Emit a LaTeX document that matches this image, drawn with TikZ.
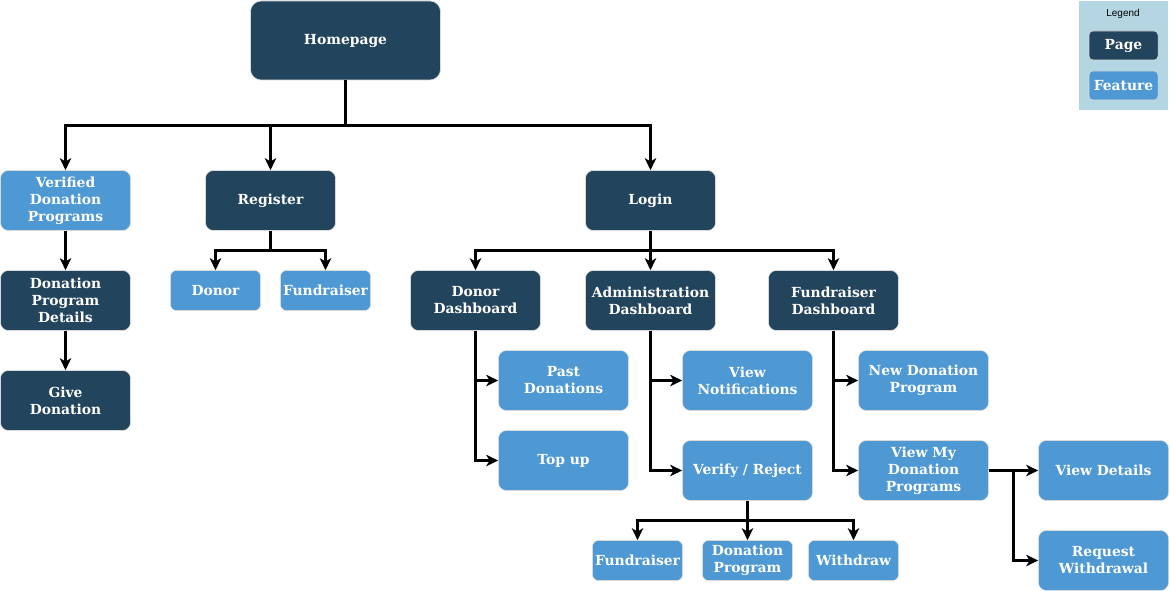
\documentclass[tikz,border=0pt]{standalone}
\usepackage{fontspec}
\setmainfont{DejaVu Serif}
\newfontfamily\legendfont{Liberation Sans}
\usetikzlibrary{arrows.meta}
\definecolor{pagec}{HTML}{23445D}
\definecolor{featc}{HTML}{4E99D3}
\definecolor{legc}{HTML}{B4D6E3}
\tikzset{
  box/.style={rounded corners=6pt, draw=white!70!gray, line width=0.4pt, text=white, align=center, inner sep=0pt,
    font=\fontsize{10.4pt}{12.75pt}\selectfont\bfseries, minimum width=97.5pt, minimum height=45pt},
  pagebox/.style={box, fill=pagec},
  featbox/.style={box, fill=featc},
  smallbox/.style={minimum width=67.5pt, minimum height=30pt, rounded corners=4.5pt},
  conn/.style={line width=1.6pt, -{Stealth[length=9pt,width=8.5pt,inset=2.5pt]}},
  plain/.style={line width=1.6pt}
}
\begin{document}
\begin{tikzpicture}[x=0.75pt,y=-0.75pt]
\useasboundingbox (0,0) rectangle (1170,591);
% legend
\fill[legc] (1079,1) rectangle (1168,110);
\node[font=\legendfont\fontsize{7.5pt}{9pt}\selectfont] (legtitle) at (1123,14) {Legend};
\node[pagebox, minimum width=51.75pt, minimum height=21.75pt, rounded corners=3pt] (legpage) at (1123.5,45.5) {Page};
\node[featbox, minimum width=51.75pt, minimum height=21.75pt, rounded corners=3pt] (legfeat) at (1123.5,85.5) {Feature};
% nodes
\node[pagebox, minimum width=142.5pt, minimum height=59.25pt, rounded corners=8pt] (home) at (345.5,40.5) {Homepage};
\node[featbox] (verified) at (65.5,200.5) {Verified\\Donation\\Programs};
\node[pagebox] (register) at (270.5,200.5) {Register};
\node[pagebox] (login) at (650.5,200.5) {Login};
\node[pagebox] (details) at (65.5,300.5) {Donation\\Program\\Details};
\node[pagebox] (give) at (65.5,400.5) {Give\\Donation};
\node[featbox, smallbox] (rdonor) at (215.5,290.5) {Donor};
\node[featbox, smallbox] (rfund) at (325.5,290.5) {Fundraiser};
\node[pagebox] (ddash) at (475.5,300.5) {Donor\\Dashboard};
\node[pagebox] (adash) at (650.5,300.5) {Administration\\Dashboard};
\node[pagebox] (fdash) at (833.5,300.5) {Fundraiser\\Dashboard};
\node[featbox] (past) at (563.5,380.5) {Past\\Donations};
\node[featbox] (topup) at (563.5,460.5) {Top up};
\node[featbox] (notif) at (747.5,380.5) {View\\Notifications};
\node[featbox] (verify) at (747.5,470.5) {Verify / Reject};
\node[featbox] (newprog) at (923.5,380.5) {New Donation\\Program};
\node[featbox] (myprog) at (923.5,470.5) {View My\\Donation\\Programs};
\node[featbox] (viewdet) at (1103.5,470.5) {View Details};
\node[featbox] (reqw) at (1103.5,560.5) {Request\\Withdrawal};
\node[featbox, smallbox] (vfund) at (637.5,560.5) {Fundraiser};
\node[featbox, smallbox] (vprog) at (747.5,560.5) {Donation\\Program};
\node[featbox, smallbox] (vwith) at (853.5,560.5) {Withdraw};
% connectors
\coordinate (hj) at (345.5,125.5);
\draw[plain] (home.south) -- (hj);
\draw[conn] (hj) -| (verified.north);
\draw[conn] (hj) -| (register.north);
\draw[conn] (hj) -| (login.north);
\draw[conn] (verified) -- (details);
\draw[conn] (details) -- (give);
\coordinate (rj) at (270.5,250.5);
\draw[plain] (register.south) -- (rj);
\draw[conn] (rj) -| (rdonor.north);
\draw[conn] (rj) -| (rfund.north);
\coordinate (lj) at (650.5,250.5);
\draw[plain] (login.south) -- (lj);
\draw[conn] (lj) -| (ddash.north);
\draw[conn] (lj) -- (adash.north);
\draw[conn] (lj) -| (fdash.north);
\draw[conn] (ddash.south) |- (past.west);
\draw[conn] (ddash.south) |- (topup.west);
\draw[conn] (adash.south) |- (notif.west);
\draw[conn] (adash.south) |- (verify.west);
\draw[conn] (fdash.south) |- (newprog.west);
\draw[conn] (fdash.south) |- (myprog.west);
\draw[conn] (myprog.east) -- (viewdet.west);
\coordinate (mj) at (1013.5,470.5);
\draw[conn] (mj) |- (reqw.west);
\coordinate (vj) at (747.5,520.5);
\draw[plain] (verify.south) -- (vj);
\draw[conn] (vj) -| (vfund.north);
\draw[conn] (vj) -- (vprog.north);
\draw[conn] (vj) -| (vwith.north);
\end{tikzpicture}
\end{document}
